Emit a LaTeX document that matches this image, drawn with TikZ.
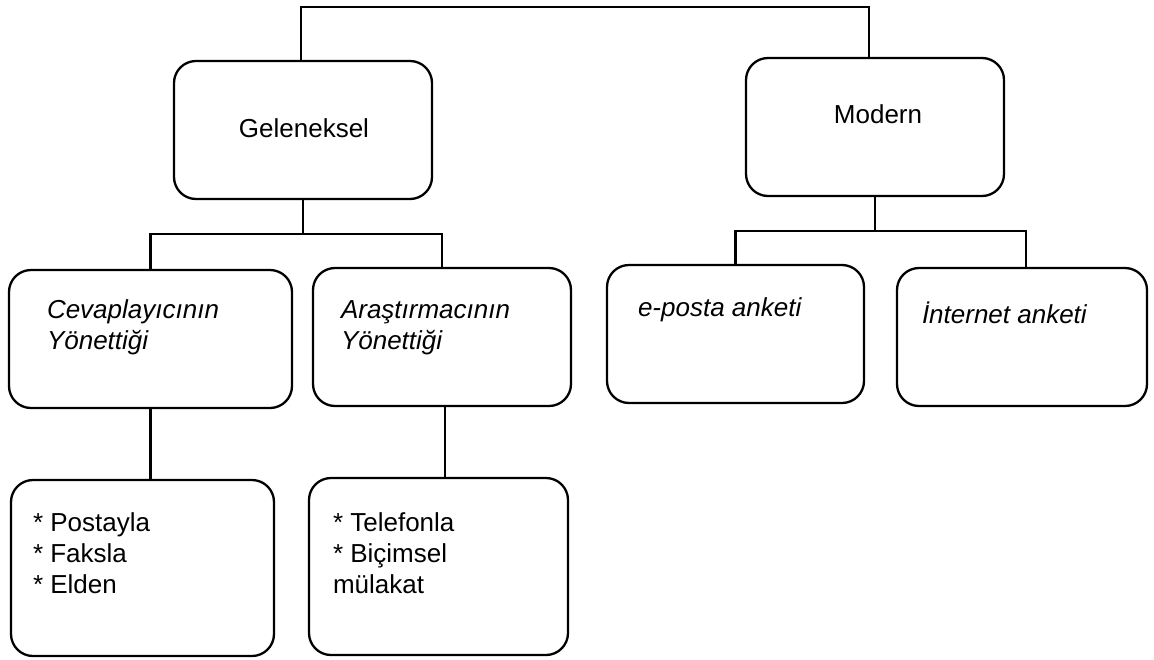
\documentclass[tikz,border=0pt]{standalone}
\usepackage{fontspec}
\setmainfont{Liberation Sans}
\begin{document}
\begin{tikzpicture}[x=1pt,y=-1pt,
  box/.style 2 args={draw, line width=2.3pt, rounded corners=22pt,
    anchor=north west, inner sep=0pt, outer sep=0pt,
    minimum width=#1, minimum height=#2},
  wire/.style={line width=2.1pt},
  lbl/.style={inner sep=0pt, outer sep=0pt, font=\fontsize{26}{31}\selectfont},
  lbli/.style={lbl, font=\fontsize{26}{31}\selectfont\itshape}]

\fill[white] (0,0) rectangle (1154,659);
\useasboundingbox (0,0) rectangle (1154,659);

% boxes
\node[box={258pt}{138pt}] (gel) at (174,61) {};
\node[box={258pt}{138pt}] (mod) at (746,58) {};
\node[box={283pt}{138pt}] (cev) at (9,270) {};
\node[box={258pt}{138pt}] (ara) at (313,268) {};
\node[box={257pt}{138pt}] (epo) at (607,265) {};
\node[box={250pt}{138pt}] (int) at (897,268) {};
\node[box={263pt}{176pt}] (pos) at (11,480) {};
\node[box={259pt}{177pt}] (tel) at (309,478) {};

% labels (multi-line labels are placed by the baseline of their last line)
\node[lbl, anchor=base] (t-gel) at (304,137) {Geleneksel};
\node[lbl, anchor=base] (t-mod) at (878,123) {Modern};
\node[lbli, anchor=base west, align=left] (t-cev) at (47,349) {Cevaplayıcının\\Yönettiği};
\node[lbli, anchor=base west, align=left] (t-ara) at (341,349) {Araştırmacının\\Yönettiği};
\node[lbli, anchor=base west] (t-epo) at (638,316) {e-posta anketi};
\node[lbli, anchor=base west] (t-int) at (922,323) {İnternet anketi};
\node[lbl, anchor=base west, align=left] (t-pos) at (33,593) {* Postayla\\* Faksla\\* Elden};
\node[lbl, anchor=base west, align=left] (t-tel) at (333,593) {* Telefonla\\* Biçimsel\\mülakat};

% connectors
\coordinate (ttop) at (0,7);
\coordinate (gj) at (303,234);
\coordinate (mj) at (875,231);
\draw[wire] ([xshift=-2pt]gel.north) -- ([xshift=-2pt]gel.north |- ttop)
  -- ([xshift=-6pt]mod.north |- ttop) -- ([xshift=-6pt]mod.north);
\draw[wire] (gel.south) -- (gj);
\draw[wire] (cev.north) |- (gj) -| (ara.north);
\draw[wire] (mod.south) -- (mj);
\draw[wire] (epo.north) |- (mj) -| ([xshift=4pt]int.north);
\draw[wire] (cev.south) -- (cev.south |- pos.north);
\draw[wire] ([xshift=3pt]ara.south) -- ([xshift=3pt]ara.south |- tel.north);
\end{tikzpicture}
\end{document}
